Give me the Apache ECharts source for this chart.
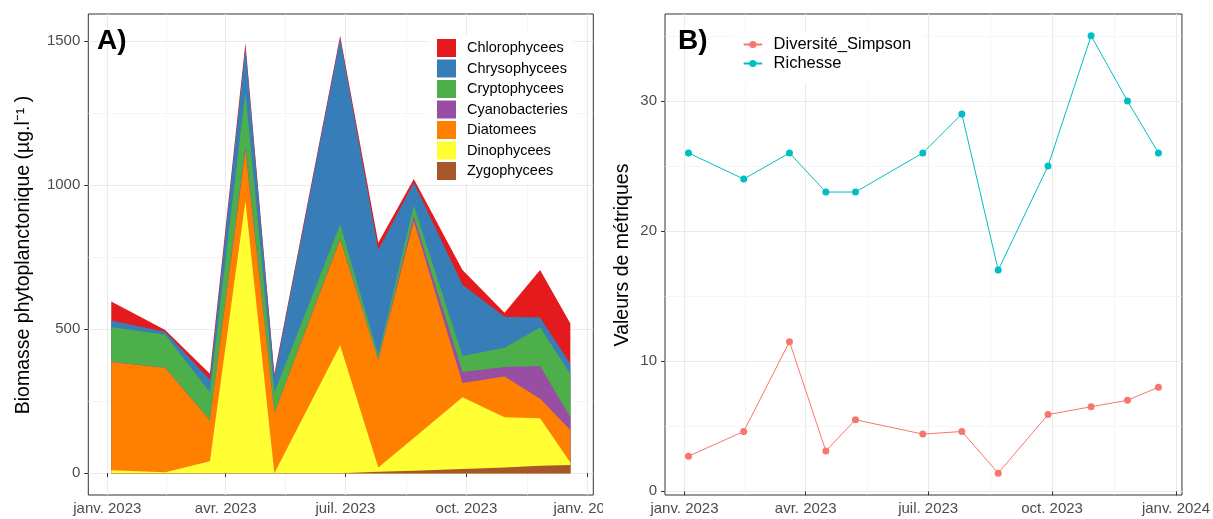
<!DOCTYPE html>
<html><head><meta charset="utf-8">
<script src="https://cdn.jsdelivr.net/npm/echarts@6/dist/echarts.min.js"></script>
<style>html,body{margin:0;padding:0;background:#fff}#c{width:1213px;height:519px}</style>
</head><body><div id="c"></div>
<script>
// ---------- DATA ----------
const dates = ['2023-01-04','2023-02-14','2023-03-20','2023-04-16','2023-05-08','2023-06-27','2023-07-26','2023-08-22','2023-09-28','2023-10-30','2023-11-26','2023-12-19'];
const groups = ['Chlorophycees','Chrysophycees','Cryptophycees','Cyanobacteries','Diatomees','Dinophycees','Zygophycees'];
const chlorophycees  = [66, 6, 21, 15, 10,   8, 25,  12,  52,  14, 165, 140];
const chrysophycees  = [23, 9, 43,157, 55, 647,366,  80, 247, 107,  35,  35];
const cryptophycees  = [120,116,97,190, 70,  50, 15,  38,  56,  67, 134, 151];
const cyanobacteries = [1,  1,  1, 12,  2,   3,  2,  17,  38,  33, 114,  44];
const diatomees      = [376,362,142,175,208, 367,372, 753,  49, 142,  67, 113];
const dinophycees    = [10, 3, 41,945,  0, 444, 15, 114, 250, 174, 165,   9];
const zygophycees    = [0,  0,  0,  0,  0,   0,  5,   8,  14,  20,  26,  28];
const metricNames = ['Diversité_Simpson','Richesse'];
const simpson  = [2.7,4.6,11.5,3.1,5.5,4.4,4.6,1.4,5.9,6.5,7.0,8.0];
const richesse = [26,24,26,23,23,26,29,17,25,35,30,26];
const xTickDates  = ['2023-01-01','2023-04-01','2023-07-01','2023-10-01','2024-01-01'];
const xTickLabels = ['janv. 2023','avr. 2023','juil. 2023','oct. 2023','janv. 2024'];
const yTicksA = [0,500,1000,1500];
const yTicksB = [0,10,20,30];

// ---------- STYLE ----------
const groupColors = {Chlorophycees:'#E41A1C',Chrysophycees:'#377EB8',Cryptophycees:'#4DAF4A',Cyanobacteries:'#984EA3',Diatomees:'#FF7F00',Dinophycees:'#FFFF33',Zygophycees:'#A65628'};
const metricColors = ['#F8766D','#00BFC4'];
const FF = '"Liberation Sans", Arial, sans-serif';

const groupValues = {Chlorophycees:chlorophycees,Chrysophycees:chrysophycees,Cryptophycees:cryptophycees,Cyanobacteries:cyanobacteries,Diatomees:diatomees,Dinophycees:dinophycees,Zygophycees:zygophycees};
const ts = dates.map(d => Date.parse(d));
const xTickTs = xTickDates.map(d => Date.parse(d));

// cumulative stack (bottom = last group in legend order)
const cum = {};
(function(){
  const run = ts.map(()=>0);
  groups.slice().reverse().forEach(g=>{
    groupValues[g].forEach((v,i)=>{ run[i]+=v; });
    cum[g] = run.slice();
  });
})();

function expand(lo, hi){ const e=(hi-lo)*0.05; return [lo-e, hi+e]; }
const xr = expand(Math.min(...ts), Math.max(...ts));
const yrA = expand(0, Math.max(...cum[groups[0]]));
const allB = simpson.concat(richesse);
const yrB = expand(Math.min(...allB), Math.max(...allB));

function minors(major, lo, hi){
  const step0 = major[1]-major[0], stepN = major[major.length-1]-major[major.length-2];
  const ext = [major[0]-step0].concat(major, [major[major.length-1]+stepN]);
  const out=[];
  for(let i=0;i<ext.length-1;i++){ const m=(ext[i]+ext[i+1])/2; if(m>lo && m<hi) out.push(m); }
  return out;
}
const majorStyle = {color:'#EBEBEB', width:1.1, type:'solid'};
const minorStyle = {color:'#F2F2F2', width:0.7, type:'solid'};
function gridLines(yMajor, yr){
  const d=[];
  minors(xTickTs, xr[0], xr[1]).forEach(v=>d.push({xAxis:v, lineStyle:minorStyle}));
  minors(yMajor, yr[0], yr[1]).forEach(v=>d.push({yAxis:v, lineStyle:minorStyle}));
  xTickTs.forEach(v=>{ if(v>xr[0]&&v<xr[1]) d.push({xAxis:v, lineStyle:majorStyle}); });
  yMajor.forEach(v=>{ if(v>yr[0]&&v<yr[1]) d.push({yAxis:v, lineStyle:majorStyle}); });
  return d;
}

function xAxisFor(gi){
  return {type:'value', gridIndex:gi, min:xr[0], max:xr[1],
    axisLine:{show:false},
    axisTick:{show:true, customValues:xTickTs, length:4, lineStyle:{color:'#333',width:1}},
    axisLabel:{customValues:xTickTs, formatter:v=>{const i=xTickTs.indexOf(v); return i>=0?xTickLabels[i]:'';}, color:'#4D4D4D', fontSize:15, fontFamily:FF, margin:6},
    splitLine:{show:false}};
}
function yAxisFor(gi, yr, ticks){
  return {type:'value', gridIndex:gi, min:yr[0], max:yr[1],
    axisLine:{show:false},
    axisTick:{show:true, customValues:ticks, length:4, lineStyle:{color:'#333',width:1}},
    axisLabel:{customValues:ticks, formatter:v=>String(v), color:'#4D4D4D', fontSize:15, fontFamily:FF, margin:8},
    splitLine:{show:false}};
}

const series = [];
series.push({type:'line', name:'_gridA', xAxisIndex:0, yAxisIndex:0, data:[], silent:true, z:0,
  markLine:{z:0, silent:true, symbol:['none','none'], label:{show:false}, animation:false, data:gridLines(yTicksA, yrA)}});
series.push({type:'line', name:'_gridB', xAxisIndex:1, yAxisIndex:1, data:[], silent:true, z:0,
  markLine:{z:0, silent:true, symbol:['none','none'], label:{show:false}, animation:false, data:gridLines(yTicksB, yrB)}});

// opaque areas drawn from the top layer down, each filled to zero
groups.forEach((g,k)=>{
  series.push({type:'line', name:g, xAxisIndex:0, yAxisIndex:0, z:2+k*0.01,
    symbol:'none', lineStyle:{width:0, color:groupColors[g]}, itemStyle:{color:groupColors[g]},
    areaStyle:{color:groupColors[g], opacity:1, origin:0},
    data: ts.map((t,i)=>[t, cum[g][i]])});
});
[simpson, richesse].forEach((vals,k)=>{
  series.push({type:'line', name:metricNames[k], xAxisIndex:1, yAxisIndex:1, z:3,
    symbol:'circle', symbolSize:7, lineStyle:{width:1, color:metricColors[k]}, itemStyle:{color:metricColors[k]},
    data: ts.map((t,i)=>[t, vals[i]])});
});

const option = {
  animation:false,
  backgroundColor:'#fff',
  grid:[
    {left:88.3, top:14, width:505, height:481, show:true, borderColor:'#333', borderWidth:1, backgroundColor:'transparent', containLabel:false},
    {left:665, top:14, width:534, height:481, show:true, borderColor:'#333', borderWidth:1, backgroundColor:'transparent', containLabel:false}
  ],
  xAxis:[xAxisFor(0), xAxisFor(1)],
  yAxis:[yAxisFor(0, yrA, yTicksA), yAxisFor(1, yrB, yTicksB)],
  legend:[
    {data:groups, orient:'vertical', left:428, top:35, padding:[4,6,3,9], itemWidth:19, itemHeight:18, itemGap:2.5, z:10,
     icon:'rect', backgroundColor:'#fff', selectedMode:false,
     textStyle:{fontSize:14.5, color:'#000', fontFamily:FF, padding:[4,0,0,6]}},
    {data:metricNames, orient:'vertical', left:733, top:32, padding:[4,12,10,9.6], itemWidth:18.5, itemHeight:9, itemGap:2, z:10,
     backgroundColor:'#fff', selectedMode:false,
     textStyle:{fontSize:16.5, color:'#000', fontFamily:FF, padding:[0,0,0,6.5]}}
  ],
  graphic:[
    {type:'text', left:97, top:27, z:100, style:{text:'A)', font:'bold 28px '+FF, fill:'#000'}},
    {type:'text', left:678, top:27, z:100, style:{text:'B)', font:'bold 28px '+FF, fill:'#000'}},
    {type:'text', x:24, y:255, rotation:Math.PI/2, z:100, style:{text:'Biomasse phytoplanctonique (µg.l⁻¹ )', font:'19.5px '+FF, fill:'#000', align:'center', verticalAlign:'middle'}},
    {type:'text', x:623, y:255, rotation:Math.PI/2, z:100, style:{text:'Valeurs de métriques', font:'19.5px '+FF, fill:'#000', align:'center', verticalAlign:'middle'}},
    {type:'rect', shape:{x:603, y:499, width:38, height:20}, z:100, style:{fill:'#fff'}}
  ],
  series:series
};
const chart = echarts.init(document.getElementById('c'), null, {renderer:'canvas'});
chart.setOption(option);
</script></body></html>
